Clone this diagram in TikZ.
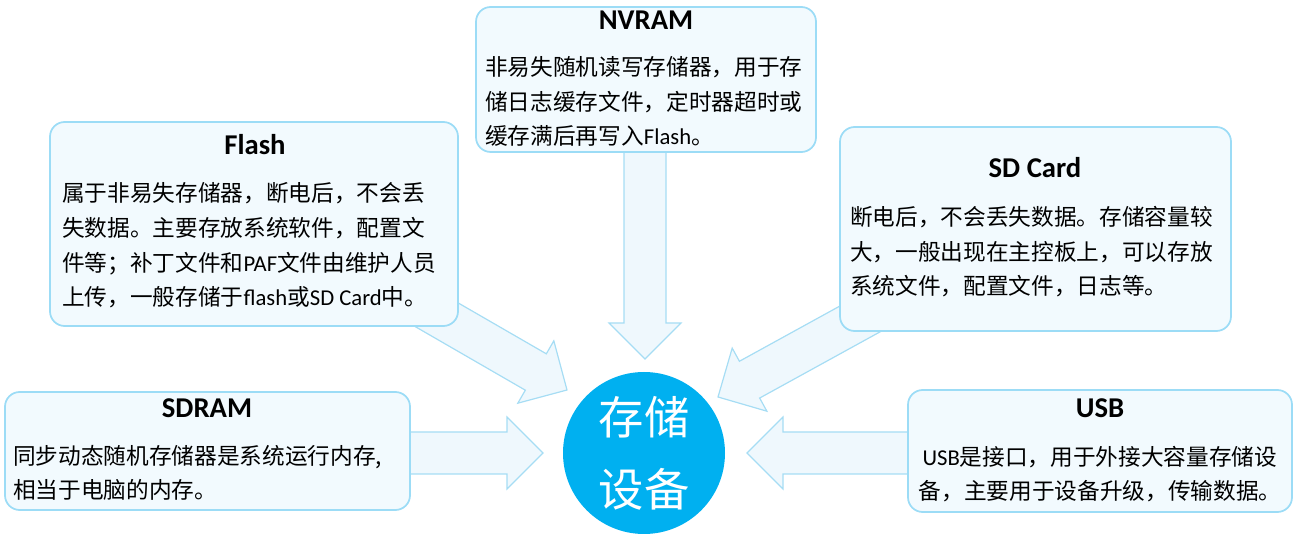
\documentclass[tikz,border=0pt]{standalone}
\usepackage{fontspec}
\setmainfont{Noto Sans CJK SC}
\newfontfamily\lat{Carlito}
\definecolor{boxfill}{HTML}{F2FAFE}
\definecolor{boxline}{HTML}{9CDCF6}
\definecolor{arrfill}{HTML}{EFF8FD}
\definecolor{arrline}{HTML}{A6DDF4}
\definecolor{hubblue}{HTML}{00B0F0}
% block arrow: tip, direction, length
\newcommand{\fatarrow}[3]{%
  \draw[bigarrow, shift={(#1)}, rotate=#2] (0,0) -- (-36,36) -- (-36,21) -- (-#3,21)
    -- (-#3,-21) -- (-36,-21) -- (-36,-36) -- cycle;}
\begin{document}
\begin{tikzpicture}[x=0.75pt, y=-0.75pt,
    panel/.style={draw=boxline, fill=boxfill, line width=1.3pt, rounded corners=11pt},
    head/.style={inner sep=0pt, font=\lat\bfseries\fontsize{21.5pt}{24pt}\selectfont},
    body/.style={inner sep=0pt, align=left, anchor=base west, font=\fontsize{17pt}{26pt}\selectfont},
    bigarrow/.style={draw=arrline, fill=arrfill, line width=0.9pt},
    hub/.style={circle, fill=hubblue, minimum size=121.5pt, inner sep=0pt, text=white, align=center,
      font=\fontsize{34pt}{54pt}\selectfont}
]
    \useasboundingbox (0,0) rectangle (1297,534);

    \coordinate (tipNvram) at (645,359);
    \coordinate (tipFlash) at (567,390);
    \coordinate (tipSd) at (718,397);
    \coordinate (tipSdram) at (543,453);
    \coordinate (tipUsb) at (747,453);

    \fatarrow{tipNvram}{-90}{220}
    \fatarrow{tipFlash}{-30}{190}
    \fatarrow{tipSd}{-151.2}{190}
    \fatarrow{tipSdram}{0}{150}
    \fatarrow{tipUsb}{180}{180}

    \node[panel, minimum width=255pt, minimum height=108.75pt] (nvram) at (646,79.5) {};
    \node[panel, minimum width=306pt, minimum height=153pt] (flash) at (254,224) {};
    \node[panel, minimum width=293.25pt, minimum height=153pt] (sdcard) at (1035.5,229) {};
    \node[panel, minimum width=303.75pt, minimum height=88.5pt] (sdram) at (207.5,451) {};
    \node[panel, minimum width=288pt, minimum height=91.5pt] (usb) at (1100,451) {};

    \node[head] (nvramT) at (646,20) {NVRAM};
    \node[head] (flashT) at (255,145) {Flash};
    \node[head] (sdcardT) at (1035,168) {SD Card};
    \node[head] (sdramT) at (207,408) {SDRAM};
    \node[head] (usbT) at (1100,408) {USB};

    % base anchor sits on the last line
    \node[body] (nvramB) at (485,145) {非易失随机读写存储器，用于存\\储日志缓存文件，定时器超时或\\缓存满后再写入{\lat Flash}。};
    \node[body] (flashB) at (62,306) {属于非易失存储器，断电后，不会丢\\失数据。主要存放系统软件，配置文\\件等；补丁文件和{\lat PAF}文件由维护人员\\上传，一般存储于{\lat flash}或{\lat SD Card}中。};
    \node[body] (sdcardB) at (850,295) {断电后，不会丢失数据。存储容量较\\大，一般出现在主控板上，可以存放\\系统文件，配置文件，日志等。};
    \node[body] (sdramB) at (13,499) {同步动态随机存储器是系统运行内存,\\相当于电脑的内存。};
    \node[body, align=center, anchor=base] (usbB) at (1100,500) {{\lat USB}是接口，用于外接大容量存储设\\备，主要用于设备升级，传输数据。};

    \node[hub] (store) at (644,453) {存储\\设备};
\end{tikzpicture}
\end{document}
